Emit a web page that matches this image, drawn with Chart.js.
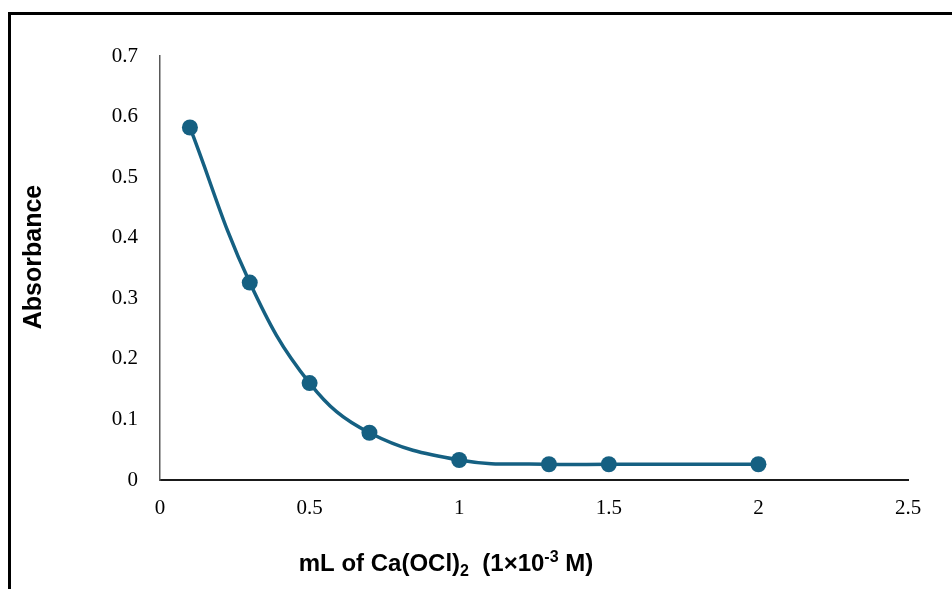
<!DOCTYPE html>
<html>
<head>
<meta charset="utf-8">
<script src="https://cdn.jsdelivr.net/npm/chart.js@4.4.1/dist/chart.umd.min.js"></script>
<style>
  html, body { margin: 0; padding: 0; background: #fff; }
  #wrap { width: 952px; height: 589px; position: relative; }
</style>
</head>
<body>
<div id="wrap"><canvas id="graph-div"></canvas></div>
<script>
// volume of Ca(OCl)2 added (mL) and measured absorbance
const volumes = [0.1, 0.3, 0.5, 0.7, 1.0, 1.3, 1.5, 2.0];
const absorbance = [0.582, 0.326, 0.160, 0.078, 0.033, 0.026, 0.026, 0.026];
const xTicks = [0, 0.5, 1, 1.5, 2, 2.5];
const yTicks = [0, 0.1, 0.2, 0.3, 0.4, 0.5, 0.6, 0.7];

const lineColor = '#156082';
const tickFont = { family: "'Liberation Serif', 'Times New Roman', serif", size: 21 };
const titleFamily = "'Liberation Sans', Arial, sans-serif";

// frame + axis titles, drawn straight on the canvas
const decor = {
  id: 'decor',
  beforeDraw(chart) {
    const ctx = chart.ctx;
    ctx.save();
    ctx.fillStyle = '#000';
    ctx.fillRect(8, 12, 944, 3);
    ctx.fillRect(8, 12, 3, 577);
    ctx.restore();
  },
  afterDraw(chart) {
    const ctx = chart.ctx;
    ctx.save();
    ctx.fillStyle = '#000';
    ctx.textBaseline = 'alphabetic';

    // y title
    ctx.save();
    ctx.translate(41, 257);
    ctx.rotate(-Math.PI / 2);
    ctx.font = 'bold 25px ' + titleFamily;
    ctx.textAlign = 'center';
    ctx.fillText('Absorbance', 0, 0);
    ctx.restore();

    // x title with sub/superscripts
    const big = 'bold 24px ' + titleFamily;
    const small = 'bold 16px ' + titleFamily;
    const parts = [
      { t: 'mL of Ca(OCl)', f: big, dy: 0 },
      { t: '2', f: small, dy: 5 },
      { t: '  (1\u00d710', f: big, dy: 0 },
      { t: '-3', f: small, dy: -9 },
      { t: ' M)', f: big, dy: 0 }
    ];
    let total = 0;
    parts.forEach(p => { ctx.font = p.f; p.w = ctx.measureText(p.t).width; total += p.w; });
    let x = 446 - total / 2;
    const base = 571;
    ctx.textAlign = 'left';
    parts.forEach(p => {
      ctx.font = p.f;
      ctx.fillText(p.t, x, base + p.dy);
      x += p.w;
    });
    ctx.restore();
  }
};

const ctx = document.getElementById('graph-div').getContext('2d');
const myChart = new Chart(ctx, {
  type: 'line',
  data: {
    datasets: [{
      data: volumes.map((v, i) => ({ x: v, y: absorbance[i] })),
      borderColor: lineColor,
      backgroundColor: lineColor,
      borderWidth: 3.5,
      pointRadius: 8,
      pointHoverRadius: 8,
      pointBorderWidth: 0,
      tension: 0.4,
      fill: false
    }]
  },
  options: {
    responsive: true,
    maintainAspectRatio: false,
    animation: false,
    events: [],
    layout: { padding: { left: 0, right: 44, top: 56, bottom: 0 } },
    plugins: { legend: { display: false }, tooltip: { enabled: false } },
    scales: {
      x: {
        type: 'linear',
        min: 0,
        max: 2.5,
        afterBuildTicks: s => { s.ticks = xTicks.map(v => ({ value: v })); },
        afterFit: s => { s.height = 109; },
        grid: { display: false, drawTicks: false },
        border: { display: true, color: '#1a1a1a', width: 2 },
        ticks: {
          font: tickFont,
          color: '#000',
          padding: 16,
          maxRotation: 0,
          callback: v => String(+v.toFixed(2))
        }
      },
      y: {
        min: 0,
        max: 0.7,
        afterBuildTicks: s => { s.ticks = yTicks.map(v => ({ value: v })); },
        afterFit: s => { s.width = 160; },
        grid: { display: false, drawTicks: false },
        border: { display: true, color: '#595959', width: 1.5 },
        ticks: {
          font: tickFont,
          color: '#000',
          padding: 22,
          callback: v => String(+v.toFixed(2))
        }
      }
    }
  },
  plugins: [decor]
});
</script>
</body>
</html>
